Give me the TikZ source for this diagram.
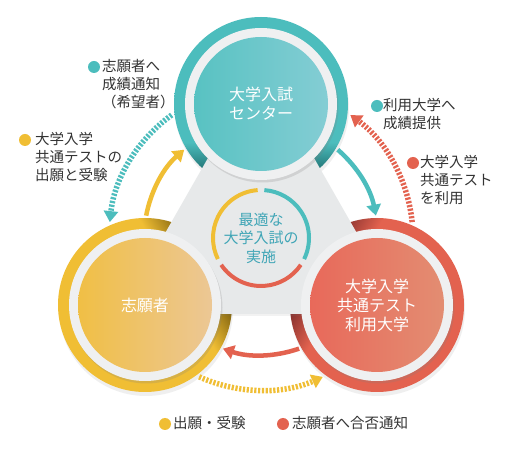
\documentclass[tikz,border=0pt]{standalone}
\usepackage{fontspec}
\setmainfont{Noto Sans CJK JP}
\usetikzlibrary{arrows.meta,calc,positioning,shadows}
\definecolor{tealc}{HTML}{4CBDBD}
\definecolor{tealdk}{HTML}{1D6A6B}
\definecolor{yelc}{HTML}{F0BE34}
\definecolor{yeldk}{HTML}{8A6A12}
\definecolor{redc}{HTML}{E3624F}
\definecolor{reddk}{HTML}{8C3430}
\definecolor{txtc}{HTML}{333333}
\definecolor{midtxt}{HTML}{3FA5B6}
\definecolor{trig}{HTML}{E7E9EA}
\definecolor{rimc}{HTML}{EFF0F1}
\definecolor{tealA}{HTML}{58C2C2}
\definecolor{tealB}{HTML}{84CDD4}
\definecolor{yelA}{HTML}{F0BF45}
\definecolor{yelB}{HTML}{ECC795}
\definecolor{redA}{HTML}{E8695A}
\definecolor{redB}{HTML}{E38D72}
\pgfdeclareverticalshading{ringT}{100bp}{color(0bp)=(tealdk); color(30bp)=(tealdk); color(39bp)=(tealc); color(100bp)=(tealc)}
\pgfdeclareverticalshading{ringL}{100bp}{color(0bp)=(yeldk); color(30bp)=(yeldk); color(39bp)=(yelc); color(100bp)=(yelc)}
\pgfdeclareverticalshading{ringR}{100bp}{color(0bp)=(reddk); color(30bp)=(reddk); color(39bp)=(redc); color(100bp)=(redc)}
\tikzset{
    outring/.style={drop shadow={shadow xshift=1pt,shadow yshift=-4pt,opacity=.12}},
    rim/.style={fill=rimc,drop shadow={shadow xshift=1.5pt,shadow yshift=-2.5pt,opacity=.22}},
    disk/.style={circle,minimum size=134pt,inner sep=0pt,text=white,align=center,font=\fontsize{16}{19}\selectfont},
    dot/.style={circle,inner sep=0pt,minimum size=12pt},
    lab/.style={anchor=north west,inner sep=0pt,align=left,text=txtc,font=\fontsize{14.5}{18}\selectfont},
    solidarr/.style={line width=4.5pt,-{Triangle[length=11pt,width=14pt]}},
    dotarr/.style={line width=5.5pt,dash pattern=on 2.2pt off 1.6pt,-{Triangle[length=11pt,width=14pt]}},
    midring/.style={line width=4pt}
}

\begin{document}
\begin{tikzpicture}[x=1pt,y=1pt]
  \useasboundingbox[fill=white] (0,0) rectangle (507,464);
  \coordinate (C) at (261,226);
  \coordinate (T) at (261,360);
  \coordinate (L) at (145,159);
  \coordinate (R) at (377,159);
  % outer coloured rings
  \shade[shading=ringT,outring] (T) circle[radius=87];
  \shade[shading=ringL,shading angle=120,outring] (L) circle[radius=87];
  \shade[shading=ringR,shading angle=-120,outring] (R) circle[radius=87];
  % grey triangle
  \fill[trig,drop shadow={shadow xshift=0pt,shadow yshift=-2pt,opacity=.1}] (261,399) -- (119,150) -- (403,150) -- cycle;
  \foreach \P in {T,L,R}{\fill[rim] (\P) circle[radius=76];}
  \node[disk,left color=tealA,right color=tealB] (center) at (T) {大学入試\\センター};
  \node[disk,left color=yelA,right color=yelB] (appl) at (L) {志願者};
  \node[disk,left color=redA,right color=redB] (univ) at (R) {大学入学\\共通テスト\\利用大学};
  % middle ring
  \draw[midring,yelc] ($(C)+(94:48)$) arc[start angle=94,end angle=206,radius=48];
  \draw[midring,redc] ($(C)+(214:48)$) arc[start angle=214,end angle=326,radius=48];
  \draw[midring,tealc] ($(C)+(-26:48)$) arc[start angle=-26,end angle=86,radius=48];
  \node[align=center,text=midtxt,font=\fontsize{15}{18.5}\selectfont] (goal) at (C) {最適な\\大学入試の\\実施};
  % arrow ends
  \coordinate (tdS) at ($(C)+(126:152)$);
  \coordinate (tdE) at ($(C)+(174:152)$);
  \coordinate (rdS) at ($(C)+(6:152)$);
  \coordinate (rdE) at ($(C)+(54:152)$);
  \coordinate (ydS) at ($(C)+(246:152)$);
  \coordinate (ydE) at ($(C)+(294:152)$);
  \coordinate (ysS) at ($(C)+(169:117)$);
  \coordinate (ysE) at ($(C)+(131:117)$);
  \coordinate (tsS) at ($(C)+(49:117)$);
  \coordinate (tsE) at ($(C)+(11:117)$);
  \coordinate (rsS) at ($(C)+(289:117)$);
  \coordinate (rsE) at ($(C)+(251:117)$);
  \draw[dotarr,tealc] (tdS) to[bend right=24,looseness=.9] (tdE);
  \draw[dotarr,redc] (rdS) to[bend right=24,looseness=.9] (rdE);
  \draw[dotarr,yelc] (ydS) to[bend right=24,looseness=.9] (ydE);
  \draw[solidarr,yelc] (ysS) to[bend left=19,looseness=.9] (ysE);
  \draw[solidarr,tealc] (tsS) to[bend left=19,looseness=.9] (tsE);
  \draw[solidarr,redc] (rsS) to[bend left=19,looseness=.9] (rsE);
  % labels
  \node[lab] (lab1) at (102,404.5) {志願者へ\\成績通知\\（希望者）};
  \node[lab] (lab2) at (35,331.5) {大学入学\\共通テストの\\出願と受験};
  \node[lab] (lab3) at (383,365.5) {利用大学へ\\成績提供};
  \node[lab] (lab4) at (420,308.5) {大学入学\\共通テスト\\を利用};
  \node[lab] (leg1) at (173,47.5) {出願・受験};
  \node[lab] (leg2) at (292,47.5) {志願者へ合否通知};
  \node[dot,fill=tealc] (d1) at ($(lab1.north west)+(-8,-7.5)$) {};
  \node[dot,fill=yelc] (d2) at ($(lab2.north west)+(-10,-7.5)$) {};
  \node[dot,fill=tealc] (d3) at ($(lab3.north west)+(-6,-7.5)$) {};
  \node[dot,fill=redc] (d4) at ($(lab4.north west)+(-7,-7.5)$) {};
  \node[dot,fill=yelc] (d5) at ($(leg1.north west)+(-8,-7.5)$) {};
  \node[dot,fill=redc] (d6) at ($(leg2.north west)+(-9,-7.5)$) {};
\end{tikzpicture}
\end{document}
